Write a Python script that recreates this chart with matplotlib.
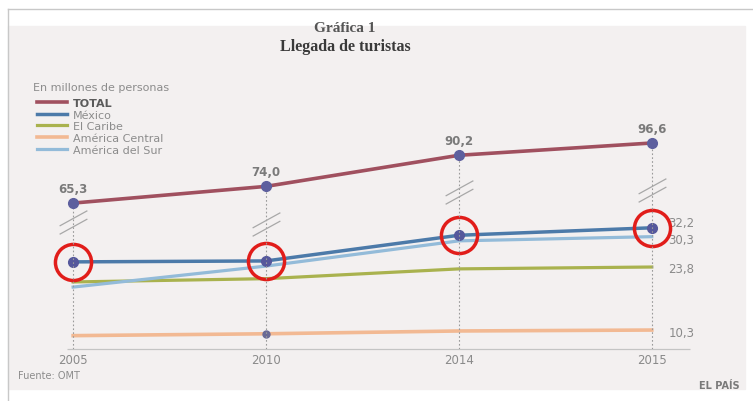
import matplotlib.pyplot as plt
from matplotlib.path import Path
from matplotlib.transforms import offset_copy
from matplotlib.patches import Rectangle
from matplotlib.lines import Line2D

# datos (millones de personas)
years = ['2005', '2010', '2014', '2015']
total = [65.3, 74.0, 90.2, 96.6]
mexico = [24.9, 25.1, 30.6, 32.2]
caribe = [20.6, 21.3, 23.4, 23.8]
central = [9.1, 9.5, 10.1, 10.3]
sur = [19.5, 24.0, 29.4, 30.3]
series_names = ['TOTAL', 'México', 'El Caribe', 'América Central', 'América del Sur']

W, H = 753, 402


def fx(x):
    return x / W


def fy(y):
    return 1 - y / H


def fmt(v):
    return f'{v:.1f}'.replace('.', ',')


fig = plt.figure(figsize=(W / 100, H / 100), dpi=100)
fig.patch.set_facecolor('white')
fig.add_artist(Rectangle((fx(8), fy(390)), fx(745) - fx(8), fy(27) - fy(390),
                         transform=fig.transFigure, color='#f3f0f0', zorder=0))
fig.add_artist(Line2D([fx(8), 1], [fy(10), fy(10)], transform=fig.transFigure, color='#c8c8c8', lw=1))
fig.add_artist(Line2D([fx(8), fx(8)], [fy(10), 0], transform=fig.transFigure, color='#c8c8c8', lw=1))

ax = fig.add_axes([fx(50), fy(350), fx(700) - fx(50), fy(120) - fy(350)])
ax.set_xlim(-0.12, 3.25)
ax.set_ylim(6.24, 55.5)
axt = ax.twinx()
axt.set_ylim(-10.7, 109.1)
for a in (ax, axt):
    a.patch.set_visible(False)
    for s in a.spines.values():
        s.set_visible(False)
axt.set_yticks([])
ax.set_yticks([])
x = list(range(len(years)))
ax.set_xticks(x, years)
ax.tick_params(axis='x', length=0, pad=3, labelsize=8.5, labelcolor='#8a8a8a')

# lineas verticales punteadas y eje base
axt.vlines(x, -10.7, total, colors='#9a9a9a', linestyles=(0, (1.5, 2)), lw=0.8, zorder=1)
ax.hlines(6.24, -0.03, 3.2, colors='#c4c4c4', lw=0.9, clip_on=False)

# series inferiores
l_cen, = ax.plot(x, central, color='#f2b993', lw=2.6, label=series_names[3], zorder=2)
l_car, = ax.plot(x, caribe, color='#a9b24e', lw=2.3, label=series_names[2], zorder=2)
l_sur, = ax.plot(x, sur, color='#93bbd9', lw=2.3, label=series_names[4], zorder=3)
l_mex, = ax.plot(x, mexico, color='#4c7aa9', lw=2.5, label=series_names[1], zorder=4)
ax.plot(x, mexico, 'o', color='#56589c', ms=7, zorder=5)
ax.plot(x[1], central[1], 'o', color='#6a6a96', ms=5, zorder=5)
ax.plot(x, mexico, 'o', ms=26, mfc='none', mec='#e11d1a', mew=2.5, zorder=6)

# total
l_tot, = axt.plot(x, total, color='#a0505f', lw=2.6, label=series_names[0], zorder=3)
axt.plot(x, total, 'o', color='#5d5f9e', ms=7, zorder=4)
for i, v in enumerate(total):
    axt.annotate(fmt(v), (i, v), xytext=(0, 6), textcoords='offset points',
                 ha='center', va='bottom', fontsize=8.5, color='#7a7a7a', fontweight='bold')

# etiquetas finales
for vals, dy in [(mexico, 4), (sur, -2), (caribe, -1), (central, -2)]:
    ax.annotate(fmt(vals[-1]), (3, vals[-1]), xytext=(12, dy), textcoords='offset points',
                ha='left', va='center', fontsize=8.5, color='#8a8a8a')

# marcas de corte
brk = Path([(-1, -0.25), (1, 0.85), (-1, -0.85), (1, 0.25)],
           [Path.MOVETO, Path.LINETO, Path.MOVETO, Path.LINETO])
brk_offsets = [19, 38, 37, 47]
for i, v in enumerate(total):
    tr = offset_copy(axt.transData, fig=fig, y=-brk_offsets[i], units='dots')
    axt.plot([i], [v], marker=brk, ms=20, mfc='none', mec='#a8a8a8', mew=0.9,
             linestyle='none', transform=tr, zorder=2)

# leyenda
leg = fig.legend([l_tot, l_mex, l_car, l_cen, l_sur], series_names, loc='upper left',
                 bbox_to_anchor=(fx(37), fy(99)), frameon=False, fontsize=8,
                 handlelength=2.7, handletextpad=0.5, labelspacing=0.15, borderaxespad=0,
                 borderpad=0)
for t in leg.get_texts():
    t.set_color('#8c8c8c')
leg.get_texts()[0].set_fontweight('bold')
leg.get_texts()[0].set_color('#5a5a5a')

# textos
fig.text(fx(345), fy(29), 'Gráfica 1', ha='center', va='center', family='Liberation Serif',
         fontweight='bold', fontsize=11, color='#555')
fig.text(fx(345), fy(47), 'Llegada de turistas', ha='center', va='center', family='Liberation Serif',
         fontweight='bold', fontsize=11.5, color='#3a3a3a')
fig.text(fx(33), fy(88), 'En millones de personas', ha='left', va='center', fontsize=8, color='#8c8c8c')
fig.text(fx(18), fy(376), 'Fuente: OMT', ha='left', va='center', fontsize=7, color='#8c8c8c')
fig.text(fx(740), fy(386), 'EL PAÍS', ha='right', va='center', fontsize=7, fontweight='bold', color='#7a7a7a')

fig.savefig('out.png', dpi=100)
